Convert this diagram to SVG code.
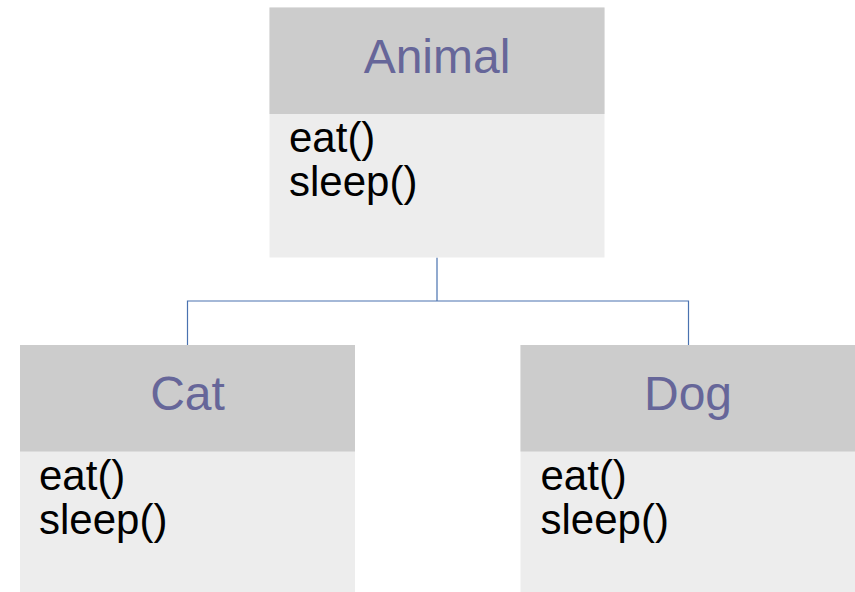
<svg xmlns="http://www.w3.org/2000/svg" width="855" height="592" viewBox="0 0 855 592">
<style>
.hdr{fill:#cccccc}
.body{fill:#ededed}
.title{font-family:"Liberation Sans",Arial,sans-serif;font-size:48px;fill:#666699;text-anchor:middle}
.op{font-family:"Liberation Sans",Arial,sans-serif;font-size:42px;fill:#000000}
.conn{fill:none;stroke:#4a72b0;stroke-width:1.2}
</style>
<rect width="855" height="592" fill="#ffffff"/>
<g id="connectors">
<path class="conn" d="M437,257.5 V301 M187.5,345 V301 H688.5 V345"/>
</g>
<g id="animal">
<rect class="body" x="269.5" y="7.5" width="335" height="250"/>
<rect class="hdr" x="269.5" y="7.5" width="335" height="106.5"/>
<text class="title" x="437" y="72.5">Animal</text>
<text class="op" x="289" y="152">eat()</text>
<text class="op" x="289" y="196">sleep()</text>
</g>
<g id="cat">
<rect class="body" x="20" y="345" width="335" height="247"/>
<rect class="hdr" x="20" y="345" width="335" height="106.5"/>
<text class="title" x="187.5" y="409.5">Cat</text>
<text class="op" x="39" y="489.5">eat()</text>
<text class="op" x="39" y="533.5">sleep()</text>
</g>
<g id="dog">
<rect class="body" x="520.5" y="345" width="335" height="247"/>
<rect class="hdr" x="520.5" y="345" width="335" height="106.5"/>
<text class="title" x="688" y="409.5">Dog</text>
<text class="op" x="540.5" y="489.5">eat()</text>
<text class="op" x="540.5" y="533.5">sleep()</text>
</g>
</svg>
